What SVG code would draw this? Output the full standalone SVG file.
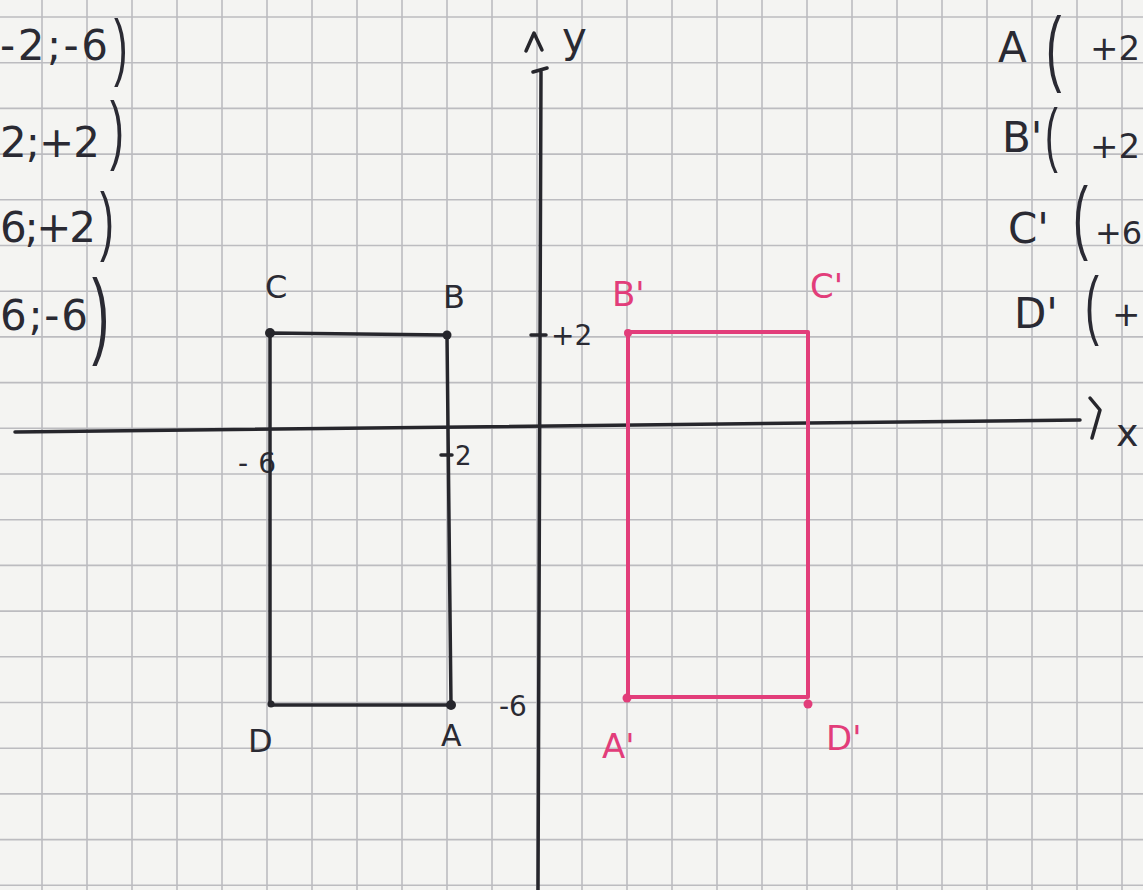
<svg xmlns="http://www.w3.org/2000/svg" width="1143" height="890" viewBox="0 0 1143 890">
<defs>
<style>
.grid{stroke:#bcbcc0;stroke-width:1.6;fill:none}
.ink{stroke:#26262c;stroke-width:3.5;fill:none;stroke-linecap:round;stroke-linejoin:round}
.pink{stroke:#e23d7a;stroke-width:4;fill:none;stroke-linecap:round;stroke-linejoin:round}
.t{font-family:"DejaVu Sans","Liberation Sans",sans-serif;fill:#2a2a33}
.tp{font-family:"DejaVu Sans","Liberation Sans",sans-serif;fill:#e23d7a}
.par{font-family:"Liberation Sans",sans-serif;fill:#2a2a33}
</style>
</defs>
<rect width="1143" height="890" fill="#f4f4f2"/>
<g id="grid" class="grid">
<path d="M42 0V890M87 0V890M132 0V890M177 0V890M222 0V890M267 0V890M312 0V890M357 0V890M402 0V890M447 0V890M492 0V890M537 0V890M582 0V890M627 0V890M672 0V890M717 0V890M762 0V890M807 0V890M852 0V890M897 0V890M942 0V890M987 0V890M1032 0V890M1077 0V890M1122 0V890"/>
<path d="M0 17H1143M0 62.7H1143M0 108.4H1143M0 154.1H1143M0 199.8H1143M0 245.5H1143M0 291.2H1143M0 336.9H1143M0 382.6H1143M0 428.3H1143M0 474H1143M0 519.7H1143M0 565.4H1143M0 611.1H1143M0 656.8H1143M0 702.5H1143M0 748.2H1143M0 793.9H1143M0 839.6H1143M0 885.3H1143"/>
</g>
<g id="axes">
<path class="ink" d="M15 432L1080 420"/>
<path class="ink" d="M1090 398L1100 410L1092 438" stroke-width="3"/>
<text class="t" x="1116" y="446" font-size="38">x</text>
<path class="ink" d="M541 70L538 890M533 72L547 68"/>
<path class="ink" d="M526 51L534 33L542 50" stroke-width="3"/>
<text class="t" x="562" y="52" font-size="42">y</text>
<path class="ink" d="M531 335L546 335" stroke-width="3"/>
<text class="t" x="551" y="345" font-size="28">+2</text>
<text class="t" x="499" y="716" font-size="28">-6</text>
<text class="t" x="238" y="473" font-size="28" textLength="38" lengthAdjust="spacing">-6</text>
<path class="ink" d="M441 455L452 455" stroke-width="3"/>
<text class="t" x="455" y="465" font-size="26">2</text>
</g>
<g id="rect-ABCD">
<path class="ink" d="M270 333L447 335L451 705L270 705Z"/>
<circle cx="270" cy="333" r="5" fill="#26262c"/>
<circle cx="447" cy="335" r="4.5" fill="#26262c"/>
<circle cx="451" cy="705" r="5" fill="#26262c"/>
<circle cx="271" cy="704" r="3.5" fill="#26262c"/>
<text class="t" x="265" y="298" font-size="32">C</text>
<text class="t" x="443" y="308" font-size="32">B</text>
<text class="t" x="248" y="752" font-size="32">D</text>
<text class="t" x="441" y="746" font-size="30">A</text>
</g>
<g id="rect-A1B1C1D1">
<path class="pink" d="M628 332L808 332L808 697L628 697Z"/>
<circle cx="627" cy="698" r="4.5" fill="#e23d7a"/>
<circle cx="808" cy="704" r="4.5" fill="#e23d7a"/>
<circle cx="628" cy="333" r="4" fill="#e23d7a"/>
<text class="tp" x="612" y="306" font-size="34">B'</text>
<text class="tp" x="810" y="298" font-size="34">C'</text>
<text class="tp" x="602" y="758" font-size="34">A'</text>
<text class="tp" x="826" y="750" font-size="34">D'</text>
</g>
<g id="coords-left">
<text class="t" x="0" y="60" font-size="42" textLength="108" lengthAdjust="spacing">-2;-6</text>
<text class="par" transform="translate(114,72) scale(0.55,1)" font-size="74">)</text>
<text class="t" x="0" y="157" font-size="42" textLength="100" lengthAdjust="spacing">2;+2</text>
<text class="par" transform="translate(110,155) scale(0.55,1)" font-size="76">)</text>
<text class="t" x="0" y="242" font-size="42" textLength="96" lengthAdjust="spacing">6;+2</text>
<text class="par" transform="translate(100,246) scale(0.55,1)" font-size="76">)</text>
<text class="t" x="0" y="330" font-size="42" textLength="88" lengthAdjust="spacing">6;-6</text>
<text class="par" transform="translate(92,346) scale(0.55,1)" font-size="94">)</text>
</g>
<g id="coords-right">
<text class="t" x="998" y="62" font-size="42">A</text>
<text class="par" transform="translate(1046,76) scale(0.55,1)" font-size="84">(</text>
<text class="t" x="1090" y="60" font-size="34">+2</text>
<text class="t" x="1002" y="152" font-size="42">B'</text>
<text class="par" transform="translate(1045,158) scale(0.55,1)" font-size="70">(</text>
<text class="t" x="1090" y="158" font-size="34">+2</text>
<text class="t" x="1008" y="243" font-size="42">C'</text>
<text class="par" transform="translate(1073,244) scale(0.55,1)" font-size="82">(</text>
<text class="t" x="1095" y="244" font-size="32">+6</text>
<text class="t" x="1014" y="328" font-size="42">D'</text>
<text class="par" transform="translate(1085,330) scale(0.55,1)" font-size="76">(</text>
<text class="t" x="1112" y="326" font-size="34">+</text>
</g>
</svg>
